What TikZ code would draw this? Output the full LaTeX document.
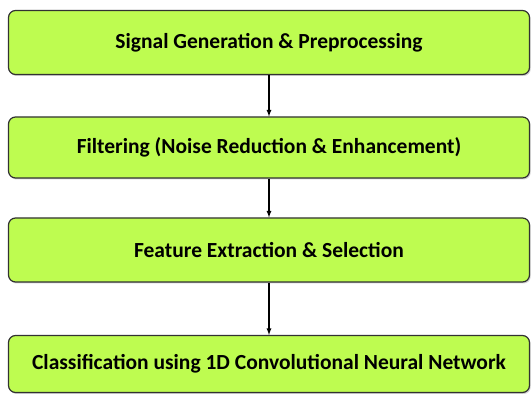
\documentclass[tikz,border=0pt]{standalone}
\usepackage{fontspec}
\setmainfont{Carlito}
\usepackage{tikz}
\usetikzlibrary{shadows}

\definecolor{stepgreen}{RGB}{190,252,80}
\definecolor{stepline}{RGB}{50,50,50}

\tikzset{
	stepbox/.style={draw=stepline, line width=1.2pt, fill=stepgreen, rounded corners=7pt,
		minimum width=521pt, inner sep=0pt, font=\fontsize{21.5}{24}\selectfont\bfseries,
		drop shadow={opacity=0.35, shadow xshift=1.2pt, shadow yshift=-1.5pt}},
	steparrow/.style={draw=black, line width=1.2pt, -latex}
}

\begin{document}
\begin{tikzpicture}[x=1pt, y=-1pt]
		\useasboundingbox (0,0) rectangle (531,395);
		% boxes
		\node[stepbox, minimum height=64pt] (gen) at (269, 42.5) {Signal Generation \& Preprocessing};
		\node[stepbox, minimum height=61pt] (filt) at (269, 147.5) {Filtering (Noise Reduction \& Enhancement)};
		\node[stepbox, minimum height=64pt] (feat) at (269, 250) {Feature Extraction \& Selection};
		\node[stepbox, minimum height=57pt] (cls) at (269, 364) {Classification using 1D Convolutional Neural Network};
		% arrows
		\draw[steparrow] (gen) -- (filt);
		\draw[steparrow] (filt) -- (feat);
		\draw[steparrow] (feat) -- (cls);
	\end{tikzpicture}
\end{document}
